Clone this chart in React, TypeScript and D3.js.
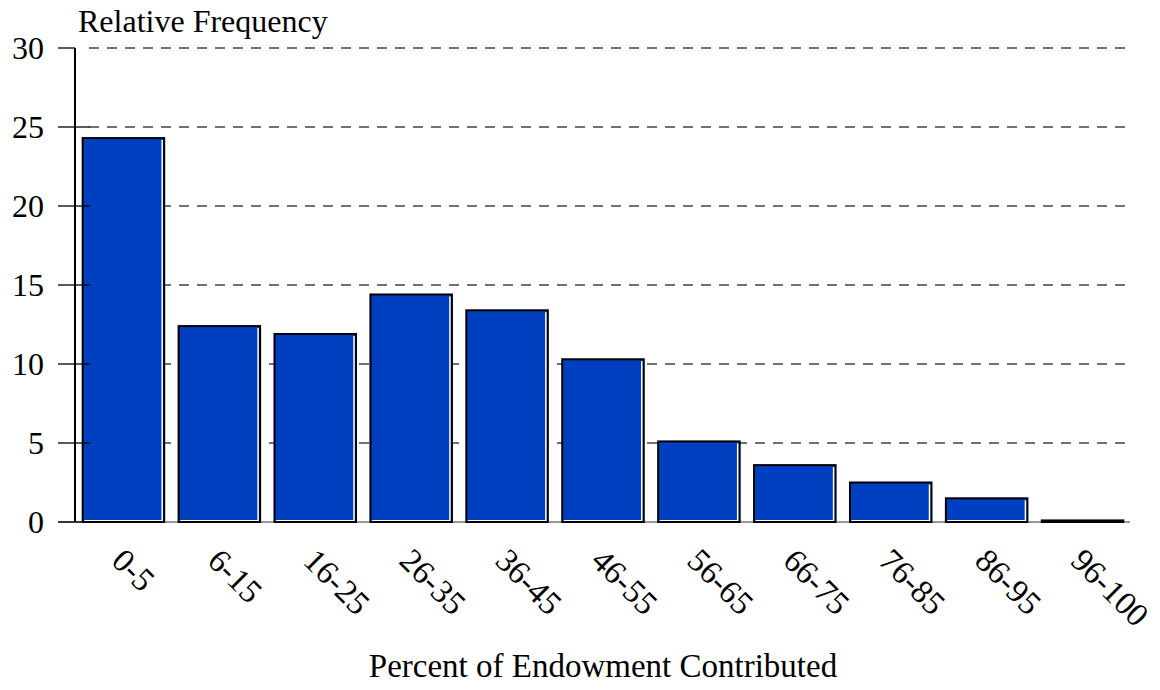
import React from "react";
import * as d3 from "d3";

const categories = ["0-5", "6-15", "16-25", "26-35", "36-45", "46-55", "56-65", "66-75", "76-85", "86-95", "96-100"];
const values = [24.3, 12.4, 11.9, 14.4, 13.4, 10.3, 5.1, 3.6, 2.5, 1.5, 0.1];
const yTicks = [0, 5, 10, 15, 20, 25, 30];
const yTitle = "Relative Frequency";
const xTitle = "Percent of Endowment Contributed";

export default function App() {
  const W = 1160, H = 690;
  const left = 75, right = 1131, top = 48, bottom = 522;
  const x = d3.scaleBand<string>().domain(categories).range([left, right]).paddingInner(0.15).paddingOuter(0.08);
  const y = d3.scaleLinear().domain([0, 30]).range([bottom, top]);
  const font = "'Liberation Serif', 'Times New Roman', serif";
  const bw = x.bandwidth();
  return (
    <svg width={W} height={H} style={{ position: "absolute", left: 0, top: 0, background: "#fff" }}>
      {yTicks.filter(t => t > 0).map(t => (
        <line key={"g" + t} x1={left + 14} x2={1128} y1={y(t)} y2={y(t)} stroke="#444" strokeWidth={1.3} strokeDasharray="10,8" />
      ))}
      <line x1={58} x2={1130} y1={bottom} y2={bottom} stroke="#777" strokeWidth={1.5} />
      {categories.map((c, i) => {
        const x0 = x(c)!;
        const y0 = y(values[i]);
        const h = bottom - y0;
        return (
          <g key={c}>
            <rect x={x0} y={y0} width={bw} height={h} fill="#003fbf" stroke="#000" strokeWidth={2} />
            {h > 4 && <line x1={x0 + bw - 2} x2={x0 + bw - 2} y1={y0 + 2} y2={bottom - 1} stroke="#fff" strokeWidth={1.5} />}
            {h > 4 && <line x1={x0 + 1.5} x2={x0 + bw - 2} y1={bottom - 1.5} y2={bottom - 1.5} stroke="#fff" strokeWidth={1} />}
          </g>
        );
      })}
      <line x1={left} x2={left} y1={top} y2={bottom} stroke="#000" strokeWidth={2} />
      {yTicks.map(t => (
        <g key={"t" + t}>
          <line x1={58} x2={t === 30 ? left : 90} y1={y(t)} y2={y(t)} stroke="#000" strokeWidth={1.3} />
          <text x={44} y={y(t)} textAnchor="end" dominantBaseline="central" fontFamily={font} fontSize={32} fill="#000">{t}</text>
        </g>
      ))}
      {categories.map(c => {
        const cx = x(c)! + bw / 2 + 3;
        const cy = 546;
        return (
          <text key={"l" + c} x={cx} y={cy} transform={`rotate(45 ${cx} ${cy})`} fontFamily={font} fontSize={33} fill="#000" dominantBaseline="hanging">{c}</text>
        );
      })}
      <text x={78} y={32} fontFamily={font} fontSize={32} fill="#000">{yTitle}</text>
      <text x={603} y={677} textAnchor="middle" fontFamily={font} fontSize={33} fill="#000">{xTitle}</text>
    </svg>
  );
}
